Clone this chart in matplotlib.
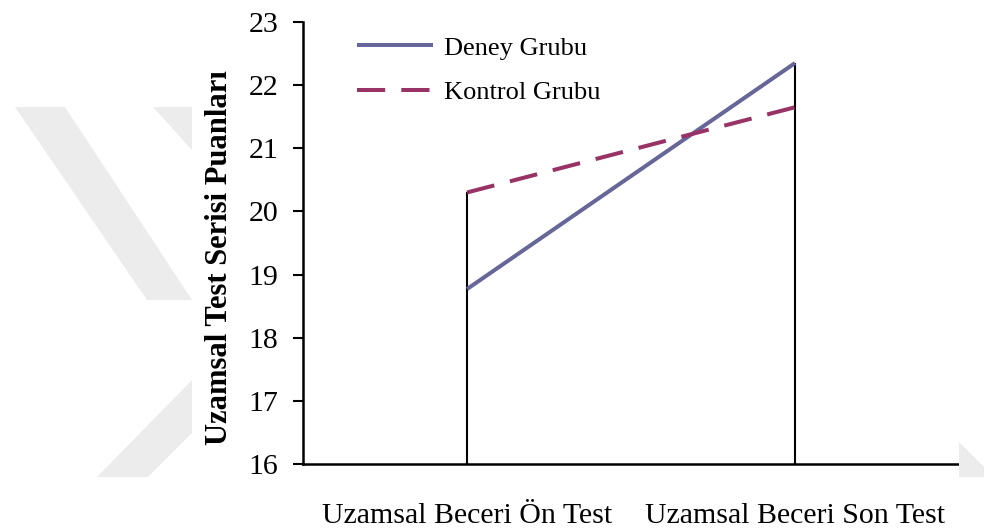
import matplotlib.pyplot as plt
from matplotlib.patches import Polygon

# values
categories = ['Uzamsal Beceri Ön Test', 'Uzamsal Beceri Son Test']
deney = [18.77, 22.35]
kontrol = [20.30, 21.65]
series_names = ['Deney Grubu', 'Kontrol Grubu']

plt.rcParams['font.family'] = ['Liberation Serif', 'DejaVu Serif']

fig = plt.figure(figsize=(9.84, 5.29), dpi=100)
H = 529

# light watermark behind the chart (pixel coords, y from top)
wm = [
    [(15, 107), (65, 107), (192, 300), (147, 300)],
    [(153, 107), (192, 107), (192, 150)],
    [(97, 477), (148, 477), (192, 433), (192, 380)],
    [(959, 442), (984, 467), (984, 477), (959, 477)],
]
for pts in wm:
    fig.patches.append(Polygon([(x, H - y) for x, y in pts], closed=True,
                               transform=None, facecolor='#ececec',
                               edgecolor='none', zorder=0))

ax = fig.add_axes([303 / 984, 1 - 464 / 529, 656 / 984, 442 / 529])
ax.patch.set_alpha(0)

x = list(range(len(categories)))

# drop lines from the highest value down to the axis
tops = [max(a, b) for a, b in zip(deney, kontrol)]
ax.vlines(x, 16, tops, color='black', linewidth=1.5, zorder=2)

ax.plot(x, deney, color='#666699', linewidth=2.9, label=series_names[0],
        solid_capstyle='butt', zorder=3)
ax.plot(x, kontrol, color='#993366', linewidth=2.9, dashes=(7, 4),
        label=series_names[1], dash_capstyle='butt', zorder=3)

ax.set_xlim(-0.5, 1.5)
ax.set_ylim(16, 23)
ax.set_yticks(range(16, 24))
ax.set_xticks(x)
ax.set_xticklabels(categories, fontsize=21.5)
ax.tick_params(axis='x', length=0, pad=28)
ax.tick_params(axis='y', labelsize=21.5, length=7.2, width=1.5, pad=10.5)

for side in ['top', 'right']:
    ax.spines[side].set_visible(False)
for side in ['left', 'bottom']:
    ax.spines[side].set_linewidth(1.8)

ax.text(-0.127, 0.468, 'Uzamsal Test Serisi Puanları', transform=ax.transAxes,
        rotation=90, ha='center', va='center', fontsize=22, fontweight='bold')

ax.legend(loc='upper left', bbox_to_anchor=(0.082, 0.968), frameon=False,
          fontsize=19, handlelength=2.9, handletextpad=0.4, labelspacing=0.8,
          borderpad=0, borderaxespad=0)

fig.savefig('out.png', dpi=100)
